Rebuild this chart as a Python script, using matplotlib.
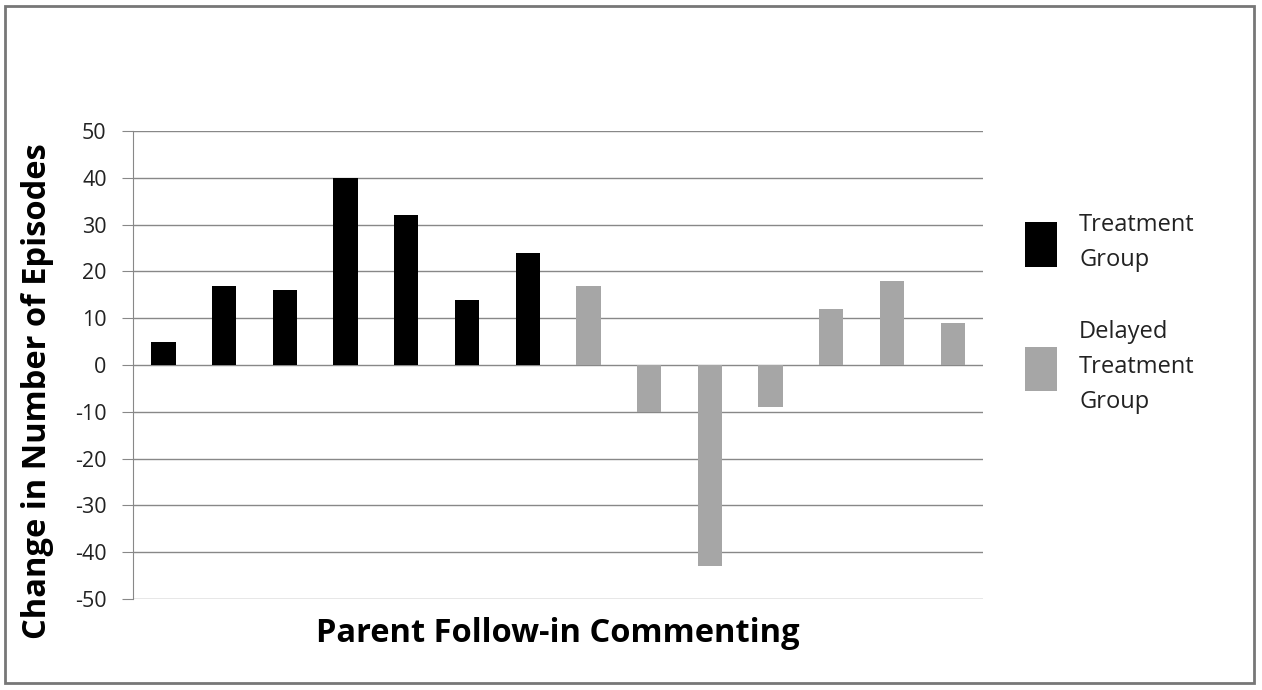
import matplotlib.pyplot as plt
import matplotlib.patches as mpatches
import numpy as np

# data
treatment = [5, 17, 16, 40, 32, 14, 24]
delayed = [17, -10, -43, -9, 12, 18, 9]
yticks = list(range(-50, 51, 10))

plt.rcParams['font.family'] = ['Open Sans', 'DejaVu Sans']
plt.rcParams['axes.unicode_minus'] = False

fig = plt.figure(figsize=(12.62, 6.9), dpi=100)
ax = fig.add_axes([0.1054, 0.1319, 0.6736, 0.6781])

n_t = len(treatment)
x_t = np.arange(n_t)
x_d = np.arange(n_t, n_t + len(delayed))
ax.bar(x_t, treatment, width=0.4, color='black', label='Treatment\nGroup', zorder=3)
ax.bar(x_d, delayed, width=0.4, color='#a6a6a6', label='Delayed\nTreatment\nGroup', zorder=3)

ax.set_xlim(-0.5, n_t + len(delayed) - 0.5)
ax.set_ylim(-50, 50)
ax.set_yticks(yticks)
ax.set_xticks([])
ax.tick_params(axis='y', labelsize=15.5, length=8, color='#888888', pad=11, labelcolor='#222222')
ax.grid(axis='y', color='#888888', linewidth=1, zorder=0)

for s in ['top', 'right', 'bottom']:
    ax.spines[s].set_visible(False)
ax.spines['left'].set_color('#888888')

ax.set_ylabel('Change in Number of Episodes', fontsize=23.5, fontweight='bold')
ax.yaxis.set_label_coords(-0.093, 0.444)
ax.set_xlabel('Parent Follow-in Commenting', fontsize=23.5, fontweight='bold', labelpad=13)

leg = ax.legend(loc='upper left', bbox_to_anchor=(0.8025, 0.708), bbox_transform=fig.transFigure,
                frameon=False, borderpad=0, fontsize=17, handlelength=1.36, handleheight=2.5,
                labelspacing=2.05, handletextpad=0.95)
for t in leg.get_texts():
    t.set_color('#222222')
    t.set_linespacing(1.6)

# outer chart border
fig.patches.append(mpatches.Rectangle((0.004, 0.01), 0.99, 0.982, transform=fig.transFigure,
                                      fill=False, edgecolor='#777777', linewidth=2))

plt.savefig('out.png', dpi=100)
